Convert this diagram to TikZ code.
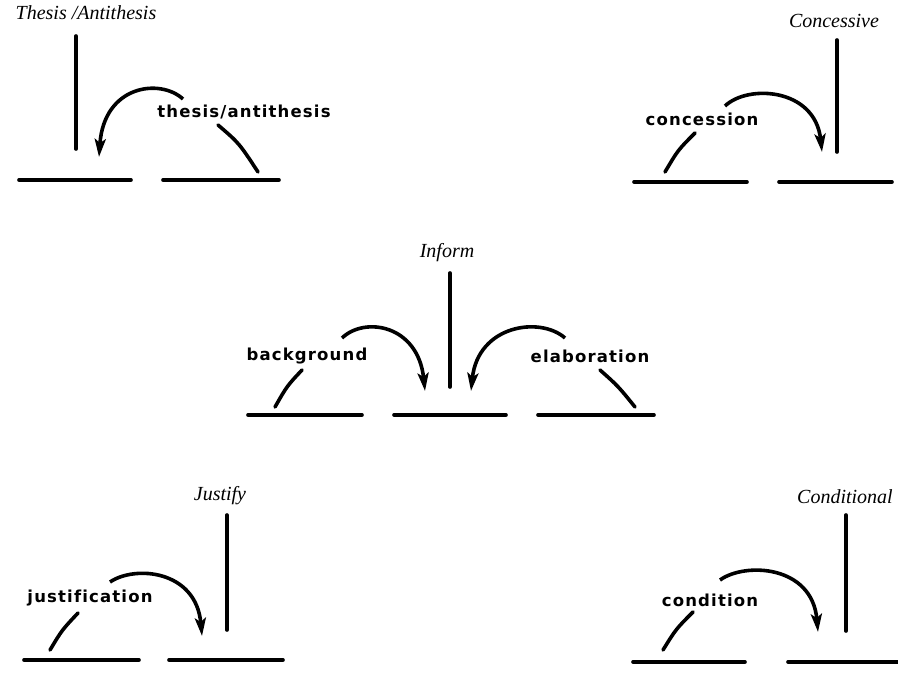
\documentclass[tikz,border=0pt]{standalone}
\usepackage{fontspec}
\usetikzlibrary{arrows.meta}
\newfontfamily\relfont[LetterSpace=7,Ligatures=NoCommon]{DejaVu Sans}
\newfontfamily\schemafont{Liberation Serif}

\tikzset{
  span/.style={line width=3.6pt, line cap=round},
  rel/.style={line width=3.6pt, -{Stealth[length=18pt,width=11pt,inset=4pt]}},
  schema/.style={font=\schemafont\fontsize{20}{22}\itshape\selectfont},
  relname/.style={font=\relfont\fontsize{16.5}{19}\bfseries\selectfont}
}

\begin{document}
\begin{tikzpicture}[x=1pt, y=-1pt]
\useasboundingbox (0,0) rectangle (898,677);

% Thesis / Antithesis
\node[schema] (ta) at (86,13) {Thesis /Antithesis};
\node[relname] (ta-rel) at (244,112) {thesis/antithesis};
\coordinate (ta-top) at (76,36);
\coordinate (ta-bot) at (76,149);
\draw[span] (ta-top) -- (ta-bot);
\draw[span] (19,180) -- (131,180);
\draw[span] (163,180) -- (279,180);
\coordinate (ta-from) at (183,99);
\coordinate (ta-to) at (99,157);
\draw[rel] (ta-from) .. controls (160,78) and (104,85) .. (ta-to);
\draw[span] (218,125) .. controls (239,143) .. (258,172);

% Concessive
\node[schema] (co) at (834,21) {Concessive};
\node[relname] (co-rel) at (702,119) {concession};
\coordinate (co-top) at (837,40);
\coordinate (co-bot) at (837,152);
\draw[span] (co-top) -- (co-bot);
\draw[span] (634,182) -- (747,182);
\draw[span] (779,182) -- (892,182);
\coordinate (co-from) at (725,106);
\coordinate (co-to) at (822,152);
\draw[rel] (co-from) .. controls (748,84) and (815,88) .. (co-to);
\draw[span] (695,133) .. controls (678,150) .. (665,172);

% Inform
\node[schema] (in) at (447,253) {Inform};
\node[relname] (in-lrel) at (307,356) {background};
\node[relname] (in-rrel) at (590,356) {elaboration};
\coordinate (in-top) at (450,273);
\coordinate (in-bot) at (450,387);
\draw[span] (in-top) -- (in-bot);
\draw[span] (248,415) -- (362,415);
\draw[span] (394,415) -- (506,415);
\draw[span] (538,415) -- (654,415);
\coordinate (in-lfrom) at (342,338);
\coordinate (in-lto) at (425,391);
\coordinate (in-rfrom) at (565,338);
\coordinate (in-rto) at (471,391);
\draw[rel] (in-lfrom) .. controls (365,316) and (418,325) .. (in-lto);
\draw[rel] (in-rfrom) .. controls (540,316) and (478,325) .. (in-rto);
\draw[span] (302,370) .. controls (287,386) .. (275,407);
\draw[span] (600,370) .. controls (618,386) .. (635,407);

% Justify
\node[schema] (ju) at (220,496) {Justify};
\node[relname] (ju-rel) at (90,598) {justification};
\coordinate (ju-top) at (227,515);
\coordinate (ju-bot) at (227,630);
\draw[span] (ju-top) -- (ju-bot);
\draw[span] (24,660) -- (139,660);
\draw[span] (169,660) -- (283,660);
\coordinate (ju-from) at (110,582);
\coordinate (ju-to) at (202,636);
\draw[rel] (ju-from) .. controls (135,565) and (196,570) .. (ju-to);
\draw[span] (78,613) .. controls (62,630) .. (50,650);

% Conditional
\node[schema] (cd) at (845,497) {Conditional};
\node[relname] (cd-rel) at (710,600) {condition};
\coordinate (cd-top) at (846,515);
\coordinate (cd-bot) at (846,631);
\draw[span] (cd-top) -- (cd-bot);
\draw[span] (633,662) -- (745,662);
\draw[span] (788,662) -- (898,662);
\coordinate (cd-from) at (720,580);
\coordinate (cd-to) at (818,632);
\draw[rel] (cd-from) .. controls (745,562) and (812,565) .. (cd-to);
\draw[span] (693,612) .. controls (676,629) .. (663,650);
\end{tikzpicture}
\end{document}
